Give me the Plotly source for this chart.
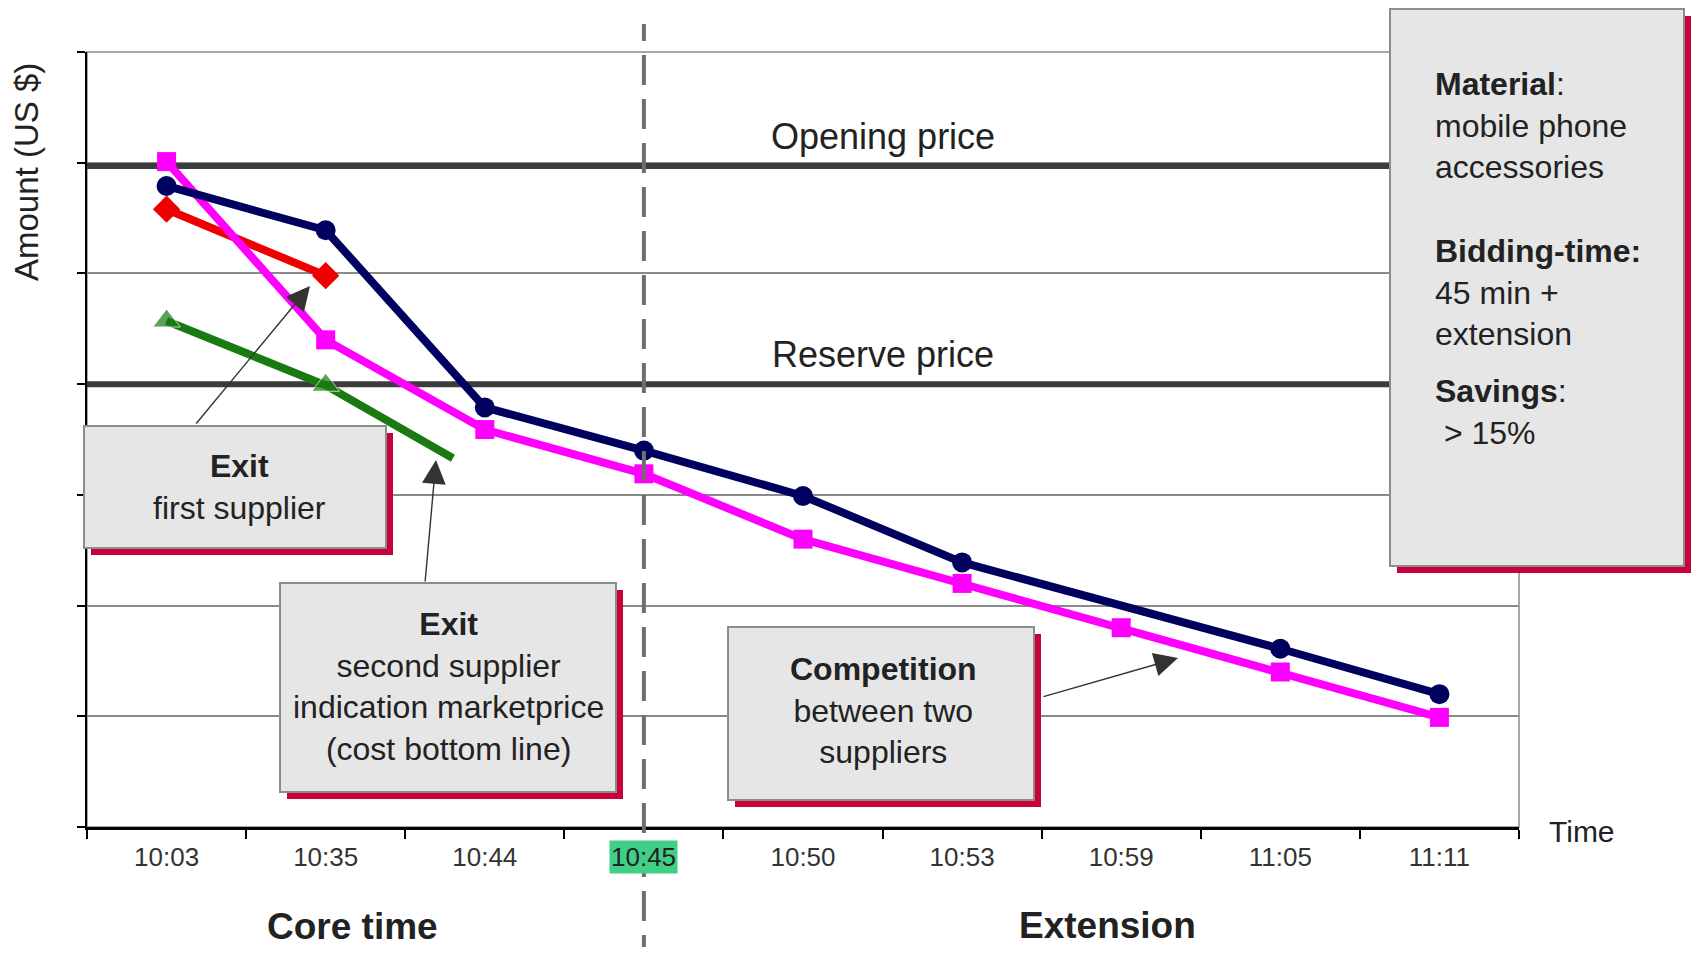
import plotly.graph_objects as go

# ---------------- data ----------------
times = ["10:03", "10:35", "10:44", "10:45", "10:50", "10:53", "10:59", "11:05", "11:11"]
x_idx = list(range(len(times)))

supplier_navy = [5.79, 5.39, 3.79, 3.40, 2.99, 2.39, None, 1.61, 1.20]
supplier_magenta = [6.01, 4.40, 3.59, 3.19, 2.60, 2.20, 1.80, 1.40, 0.99]
supplier_red_x = [0, 1]
supplier_red = [5.58, 4.98]
supplier_green_x = [0, 1, 1.80]
supplier_green = [4.57, 3.99, 3.33]

opening_price = 5.97
reserve_price = 4.0
core_end_index = 3  # 10:45 end of core time

FONT = "Arial, 'Liberation Sans', Helvetica, sans-serif"
TXT = "#222222"

# ---------------- geometry helpers (reference pixel -> paper) ----------------
OFF = 8                      # page body margin (both sides)
W, H = 1701 - 2 * OFF, 955 - 2 * OFF
L, R, T, B = 87, 1519, 52, 827   # plot area in reference pixels


def pxx(X):
    return (X - L) / (R - L)


def pxy(Y):
    return (B - Y) / (B - T)


x_span = [x_idx[0] - 0.5, x_idx[-1] + 0.5]

fig = go.Figure()

# opening / reserve price lines (below the supplier series)
for v in (opening_price, reserve_price):
    fig.add_trace(go.Scatter(x=x_span, y=[v, v], mode="lines", hoverinfo="skip",
                             line=dict(color="#3c3c3c", width=6), showlegend=False))

fig.add_trace(go.Scatter(x=supplier_green_x, y=supplier_green, mode="lines+markers",
                         line=dict(color="#1a7a12", width=8),
                         marker=dict(symbol="triangle-up", size=[24, 24, 0], color="#1a7a12"),
                         showlegend=False))
fig.add_trace(go.Scatter(x=supplier_red_x, y=supplier_red, mode="lines+markers",
                         line=dict(color="#ee0000", width=8),
                         marker=dict(symbol="diamond", size=21, color="#ee0000"),
                         showlegend=False))
fig.add_trace(go.Scatter(x=x_idx, y=supplier_magenta, mode="lines+markers",
                         line=dict(color="#ff00ff", width=8),
                         marker=dict(symbol="square", size=19, color="#ff00ff"),
                         showlegend=False))
fig.add_trace(go.Scatter(x=x_idx, y=supplier_navy, mode="lines+markers", connectgaps=True,
                         line=dict(color="#00005e", width=8),
                         marker=dict(symbol="circle", size=20, color="#00005e"),
                         showlegend=False))

shapes = []
# plot frame (top / right)
shapes.append(dict(type="rect", xref="paper", yref="paper", x0=0, x1=1, y0=0, y1=1,
                   line=dict(color="#8a8a8a", width=1.5), layer="below"))
# vertical dashed separator
shapes.append(dict(type="line", xref="x", yref="paper", x0=core_end_index, x1=core_end_index,
                   y0=pxy(965), y1=pxy(24), line=dict(color="#6e6e6e", width=4, dash="30px,14px"),
                   layer="above"))


def box(X0, Y0, X1, Y1, d=7):
    shapes.append(dict(type="rect", xref="paper", yref="paper",
                       x0=pxx(X0 + d), x1=pxx(X1 + d), y0=pxy(Y1 + d), y1=pxy(Y0 + d),
                       fillcolor="#c8003c", line=dict(width=0), layer="above"))
    shapes.append(dict(type="rect", xref="paper", yref="paper",
                       x0=pxx(X0), x1=pxx(X1), y0=pxy(Y1), y1=pxy(Y0),
                       fillcolor="#e6e6e6", line=dict(color="#8c8c8c", width=2), layer="above"))


box(84, 426, 386, 548)
box(280, 583, 616, 792)
box(728, 627, 1034, 800)
box(1390, 9, 1684, 566)

ann = []


def text(X, Y, s, size=32, bold=False, xanchor="center", align="center", angle=0, **kw):
    if bold:
        s = "<b>" + s + "</b>"
    ann.append(dict(xref="paper", yref="paper", x=pxx(X), y=pxy(Y), text=s, showarrow=False,
                    xanchor=xanchor, yanchor="middle", align=align, textangle=angle,
                    font=dict(family=FONT, size=size, color=TXT), **kw))


text(239, 487, "<b>Exit</b><br>first supplier")
text(448, 686, "<b>Exit</b><br>second supplier<br>indication marketprice<br>(cost bottom line)")
text(883, 710, "<b>Competition</b><br>between two<br>suppliers")
text(1433, 125, "<b>Material</b>:<br>mobile phone<br>accessories", xanchor="left", align="left")
text(1433, 292, "<b>Bidding-time:</b><br>45 min +<br>extension", xanchor="left", align="left")
text(1433, 412, "<b>Savings</b>:<br>\u00a0&gt; 15%", xanchor="left", align="left")

text(27, 172, "Amount (US $)", size=33, angle=-90)
text(1582, 832, "Time", size=30)
text(352, 926, "Core time", size=37, bold=True)
text(1107, 925, "Extension", size=37, bold=True)

# price labels
ann.append(dict(xref="x", yref="y", x=4.5, y=opening_price, yshift=30, text="Opening price",
                showarrow=False, yanchor="middle", font=dict(family=FONT, size=36, color=TXT)))
ann.append(dict(xref="x", yref="y", x=4.5, y=reserve_price, yshift=30, text="Reserve price",
                showarrow=False, yanchor="middle", font=dict(family=FONT, size=36, color=TXT)))

# highlighted tick label for end of core time
ann.append(dict(xref="x", yref="paper", x=core_end_index, y=pxy(857), yanchor="middle",
                text=times[core_end_index], showarrow=False, bgcolor="#3fcf86", borderpad=1,
                font=dict(family=FONT, size=26, color="#222222")))


def arrow(tailX, tailY, headX, headY):
    ann.append(dict(xref="paper", yref="paper", x=pxx(headX), y=pxy(headY), text="",
                    showarrow=True, ax=tailX - headX, ay=tailY - headY,
                    arrowhead=2, arrowsize=3.4, arrowwidth=1.4, arrowcolor="#333333",
                    standoff=0, startstandoff=0))


arrow(195, 425, 310, 286)
arrow(425, 583, 436, 460)
arrow(1042, 697, 1178, 658)

fig.update_layout(
    width=W, height=H,
    margin=dict(l=L - OFF, r=W - (R - OFF), t=T - OFF, b=H - (B - OFF), pad=0),
    paper_bgcolor="white", plot_bgcolor="white",
    shapes=shapes, annotations=ann,
    xaxis=dict(range=x_span, tickmode="array", tickvals=x_idx, ticktext=times,
               ticks="", showgrid=False, zeroline=False, showline=True, linecolor="black",
               linewidth=2.5, tickfont=dict(family=FONT, size=26, color="#333333"),
               ticklabelstandoff=5,
               minor=dict(tickmode="array", tickvals=[i - 0.5 for i in range(len(times) + 1)],
                          ticks="outside", ticklen=9, tickwidth=1.5, tickcolor="black",
                          showgrid=False)),
    yaxis=dict(range=[0, 7], tickmode="linear", tick0=0, dtick=1, showticklabels=False,
               ticks="outside", ticklen=8, tickwidth=1.5, tickcolor="black",
               showgrid=True, gridcolor="#8a8a8a", gridwidth=1.5, zeroline=False,
               showline=True, linecolor="black", linewidth=2),
    showlegend=False,
)

fig.write_html("out.html")
